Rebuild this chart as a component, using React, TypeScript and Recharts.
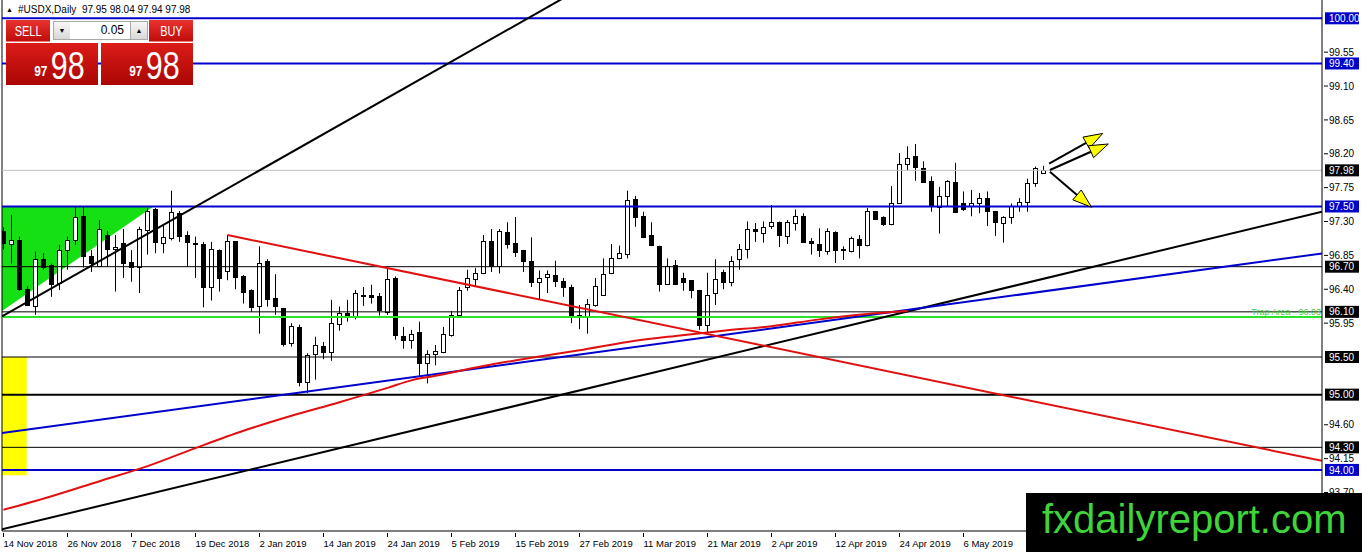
import React from "react";
import {
  ComposedChart,
  Bar,
  Line,
  Area,
  XAxis,
  YAxis,
  ReferenceLine,
  ReferenceArea,
} from "recharts";

// ── #USDX daily candles, one per trading day from 14 Nov 2018 ──
const OPEN = [
  97.17, 97.0, 97.06, 96.4, 96.18, 96.8, 96.72, 96.48, 96.92, 97.05,
  97.37, 96.84, 96.71, 97.12, 96.93, 97.02, 96.76, 96.7, 97.19, 97.46,
  97.02, 97.08, 97.41, 97.12, 97.02, 97.0, 96.43, 96.92, 96.64, 97.04,
  96.58, 96.39, 96.18, 96.77, 96.28, 96.15, 95.68, 95.9, 95.17, 95.54,
  95.64, 95.57, 95.94, 96.09, 96.05, 96.33, 96.33, 96.31, 96.1, 96.55,
  95.78, 95.73, 95.83, 95.42, 95.54, 95.57, 95.79, 96.06, 96.43, 96.54,
  96.62, 97.04, 96.71, 97.16, 97.01, 96.92, 96.78, 96.49, 96.56, 96.59,
  96.51, 96.43, 96.05, 96.05, 96.19, 96.32, 96.61, 96.82, 96.87, 97.6,
  97.37, 97.12, 96.98, 96.47, 96.72, 96.55, 96.52, 96.39, 95.93, 96.35,
  96.63, 96.5, 96.8, 96.94, 97.2, 97.15, 97.24, 97.29, 97.11, 97.28,
  97.37, 97.04, 97.0, 96.91, 97.16, 96.92, 96.91, 97.07, 96.99, 97.44,
  97.36, 97.27, 97.55, 98.06, 98.17, 98.01, 97.84, 97.49, 97.64, 97.83,
  97.54, 97.51, 97.55, 97.61, 97.44, 97.28, 97.36, 97.51, 97.56, 97.81,
  97.95,
];
const HIGH = [
  97.22, 97.39, 97.1, 96.44, 96.9, 96.88, 96.74, 96.99, 97.1, 97.49,
  97.5, 96.92, 97.32, 97.17, 97.12, 97.2, 96.92, 97.23, 97.48, 97.48,
  97.25, 97.71, 97.44, 97.17, 97.1, 97.03, 97.03, 96.93, 97.12, 97.04,
  96.59, 96.4, 96.97, 96.8, 96.6, 96.15, 95.95, 95.93, 95.55, 95.77,
  95.7, 96.26, 96.17, 96.26, 96.39, 96.43, 96.46, 96.35, 96.68, 96.57,
  95.9, 95.86, 95.97, 95.59, 95.66, 95.9, 96.11, 96.43, 96.66, 96.68,
  97.12, 97.2, 97.2, 97.29, 97.36, 96.92, 97.09, 96.65, 96.65, 96.78,
  96.55, 96.46, 96.19, 96.27, 96.55, 96.81, 97.0, 96.98, 97.71, 97.64,
  97.43, 97.29, 96.98, 96.81, 96.79, 96.62, 96.52, 96.39, 96.62, 96.8,
  96.66, 96.84, 97.0, 97.3, 97.28, 97.3, 97.52, 97.3, 97.32, 97.46,
  97.41, 97.08, 97.21, 97.21, 97.17, 96.97, 97.1, 97.12, 97.48, 97.44,
  97.37, 97.77, 98.21, 98.3, 98.33, 98.1, 97.9, 97.76, 97.85, 98.08,
  97.7, 97.72, 97.68, 97.7, 97.44, 97.37, 97.54, 97.61, 97.87, 98.03,
  98.04,
];
const LOW = [
  96.93, 96.74, 96.38, 96.18, 96.06, 96.66, 96.3, 96.39, 96.66, 96.99,
  96.69, 96.63, 96.7, 96.7, 96.37, 96.55, 96.5, 96.35, 96.86, 96.88,
  96.88, 97.05, 97.03, 96.7, 96.55, 96.16, 96.25, 96.37, 96.52, 96.4,
  96.21, 96.1, 95.81, 96.17, 96.06, 95.64, 95.64, 95.11, 95.02, 95.2,
  95.47, 95.45, 95.85, 95.97, 96.0, 96.18, 96.21, 96.05, 96.06, 95.73,
  95.61, 95.61, 95.24, 95.15, 95.39, 95.55, 95.77, 96.04, 96.38, 96.44,
  96.6, 96.63, 96.61, 96.94, 96.83, 96.63, 96.43, 96.27, 96.35, 96.43,
  96.3, 95.95, 95.87, 95.81, 96.17, 96.31, 96.6, 96.8, 96.81, 97.23,
  97.1, 96.98, 96.37, 96.46, 96.46, 96.38, 96.28, 95.86, 95.81, 96.19,
  96.4, 96.44, 96.66, 96.81, 97.03, 97.02, 97.2, 96.96, 97.0, 97.18,
  97.02, 96.86, 96.83, 96.86, 96.75, 96.79, 96.89, 96.81, 96.97, 97.32,
  97.24, 97.25, 97.54, 97.98, 97.84, 97.82, 97.43, 97.14, 97.5, 97.43,
  97.44, 97.37, 97.41, 97.24, 97.11, 97.02, 97.27, 97.43, 97.43, 97.76,
  97.94,
];
const CLOSE = [
  97.01, 97.05, 96.4, 96.19, 96.8, 96.69, 96.47, 96.92, 97.06, 97.36,
  96.84, 96.75, 97.2, 96.94, 96.96, 96.75, 96.69, 97.2, 97.44, 97.03,
  97.09, 97.43, 97.11, 97.03, 97.01, 96.43, 96.93, 96.55, 97.04, 96.56,
  96.36, 96.16, 96.75, 96.27, 96.18, 95.67, 95.91, 95.17, 95.53, 95.66,
  95.57, 95.95, 96.08, 96.06, 96.35, 96.31, 96.3, 96.12, 96.53, 95.79,
  95.73, 95.81, 95.42, 95.54, 95.58, 95.8, 96.06, 96.39, 96.55, 96.62,
  97.04, 96.71, 97.17, 97.0, 96.9, 96.78, 96.5, 96.55, 96.6, 96.51,
  96.43, 96.05, 96.06, 96.2, 96.44, 96.6, 96.81, 96.88, 97.58, 97.36,
  97.1, 96.99, 96.47, 96.71, 96.47, 96.5, 96.39, 95.93, 96.33, 96.53,
  96.5, 96.78, 96.93, 97.2, 97.18, 97.23, 97.29, 97.12, 97.29, 97.38,
  97.03, 97.01, 96.92, 97.17, 96.92, 96.94, 97.08, 96.99, 97.44, 97.33,
  97.27, 97.54, 98.07, 98.15, 98.02, 97.82, 97.5, 97.64, 97.84, 97.43,
  97.46, 97.54, 97.61, 97.44, 97.3, 97.36, 97.51, 97.56, 97.81, 98.01,
  97.98,
];

// one date label every 8 bars
const DATE_LABELS = [
  "14 Nov 2018", "26 Nov 2018", "7 Dec 2018", "19 Dec 2018", "2 Jan 2019",
  "14 Jan 2019", "24 Jan 2019", "5 Feb 2019", "15 Feb 2019", "27 Feb 2019",
  "11 Mar 2019", "21 Mar 2019", "2 Apr 2019", "12 Apr 2019", "24 Apr 2019",
  "6 May 2019",
];
const DATE_STEP = 8;

// price scale
const PRICE_TICKS = [99.55, 99.1, 98.65, 98.2, 97.75, 97.3, 96.85, 96.4, 95.95, 94.6, 94.15, 93.7];
const BLUE_LEVELS = [100.0, 99.4, 97.5, 94.0];
const BLACK_LEVELS = [96.7, 96.1, 95.5, 95.0, 94.3];
const TRAP_LEVEL = 96.03;
const LAST_PRICE = 97.98;

// visible window: bars -0.19 … 164.8, prices 93.19 … 100.24
const X_DOMAIN = [-0.1875, 164.8125];
const Y_DOMAIN = [93.1885, 100.2431];

// drawn trendlines, [bar, price] → [bar, price]
const TREND_STEEP = [[-0.19, 96.04], [75, 100.57]];
const TREND_LONG = [[-0.19, 93.21], [164.81, 97.43]];
const TREND_BLUE = [[-0.19, 94.49], [164.81, 96.875]];
const TREND_RED = [[28, 97.12], [164.81, 94.12]];

// curved red line (read at a few bars)
const RED_CURVE_BAR = [0, 6, 12, 18, 24, 30, 36, 42, 48, 51, 54, 60, 66, 72, 78, 84, 90, 96, 102, 108, 113];
const RED_CURVE_VAL = [
  93.47, 93.65, 93.85, 94.05, 94.29, 94.52, 94.72, 94.9, 95.09, 95.19, 95.25,
  95.38, 95.49, 95.59, 95.7, 95.78, 95.85, 95.91, 96.0, 96.07, 96.11,
];

// green wedge and yellow box
const GREEN_BAR = [-0.19, 18.73];
const GREEN_LO = [96.11, 97.5];
const GREEN_HI = [97.5, 97.5];
const YELLOW_BARS = [-0.19, 2.9];
const YELLOW_PRICES = [93.93, 95.5];

// scenario arrows
const ARROWS = [
  [[130.7, 98.07], [137.4, 98.47]],
  [[130.8, 97.985], [138.1, 98.33]],
  [[130.8, 97.96], [136.0, 97.49]],
];

const FONT = "'Liberation Sans', Arial, sans-serif";
const BLUE = "#0000cc";
const RED = "#e01010";

const candles = OPEN.map((o, i) => ({
  i,
  o,
  h: HIGH[i],
  l: LOW[i],
  c: CLOSE[i],
  range: [LOW[i], HIGH[i]],
}));
const greenData = GREEN_BAR.map((i, k) => ({ i, band: [GREEN_LO[k], GREEN_HI[k]] }));
const redCurve = RED_CURVE_BAR.map((i, k) => ({ i, p: RED_CURVE_VAL[k] }));
const seg = (s: number[][]) => s.map(([x, y]) => ({ x, y }));
const near = (a: number, list: number[]) => list.some((v) => Math.abs(v - a) < 1e-6);

function Candle(props: any) {
  const { x, y, width, height, payload } = props;
  const { o, c, h, l } = payload;
  const cx = Math.floor(x + width / 2) + 0.5;
  const span = h - l || 1;
  const py = (p: number) => y + ((h - p) / span) * height;
  const top = Math.round(py(Math.max(o, c))) + 0.5;
  const bot = Math.round(py(Math.min(o, c))) + 0.5;
  const up = c > o;
  return (
    <g>
      <line x1={cx} x2={cx} y1={y} y2={y + height} stroke="#000" strokeWidth={1} />
      <rect
        x={cx - 2}
        y={top}
        width={4}
        height={Math.max(bot - top, 1)}
        fill={up ? "#fff" : "#000"}
        stroke="#000"
        strokeWidth={1}
      />
    </g>
  );
}

function PriceTick({ x, y, payload }: any) {
  const v = payload.value;
  const tag = near(v, BLUE_LEVELS) ? BLUE : near(v, [LAST_PRICE, ...BLACK_LEVELS]) ? "#000" : null;
  if (tag) {
    return (
      <g>
        <rect x={x + 1} y={y - 6} width={34} height={12} fill={tag} />
        <text x={x + 5} y={y} dy="0.36em" fontSize={10} fill="#fff" fontFamily={FONT}>
          {v.toFixed(2)}
        </text>
      </g>
    );
  }
  return (
    <g>
      <line x1={x} x2={x + 4} y1={y} y2={y} stroke="#000" />
      <text x={x + 5} y={y} dy="0.36em" fontSize={10} fill="#000" fontFamily={FONT}>
        {v.toFixed(2)}
      </text>
    </g>
  );
}

function DateTick({ x, y, payload }: any) {
  const label = DATE_LABELS[Math.round(payload.value / DATE_STEP)];
  return (
    <g>
      <line x1={x} x2={x} y1={y} y2={y + 4} stroke="#000" />
      <text x={x} y={y + 14} fontSize={9.5} fill="#000" fontFamily={FONT} textAnchor="start">
        {label}
      </text>
    </g>
  );
}

function TrapLabel({ viewBox }: any) {
  const { x, y, width } = viewBox;
  return (
    <text x={x + width - 1} y={y - 2} textAnchor="end" fontSize={9} fill="#3ccf3c" fontFamily={FONT}>
      {`Trap Area - ${TRAP_LEVEL.toFixed(2)}`}
    </text>
  );
}

function ArrowShape(props: any) {
  const { x1, y1, x2, y2 } = props;
  const ang = Math.atan2(y2 - y1, x2 - x1);
  const len = 19;
  const half = 6.5;
  const bx = x2 - len * Math.cos(ang);
  const by = y2 - len * Math.sin(ang);
  const nx = -Math.sin(ang) * half;
  const ny = Math.cos(ang) * half;
  return (
    <g>
      <line x1={x1} y1={y1} x2={bx} y2={by} stroke="#000" strokeWidth={2} />
      <polygon
        points={`${x2},${y2} ${bx + nx},${by + ny} ${bx - nx},${by - ny}`}
        fill="#ffff00"
        stroke="#000"
        strokeWidth={1}
      />
    </g>
  );
}

// MT4 one-click trading panel
const redGrad = "linear-gradient(#ea3330, #bd0d0a)";
const bigGrad = "linear-gradient(#dc1c18, #a90603)";
const greyGrad = "linear-gradient(#f7f7f7, #d8d8d8)";

function Squeezed({ children, size, scale = 0.78, bold = false }: any) {
  return (
    <span
      style={{
        display: "inline-block",
        fontSize: size,
        transform: `scaleX(${scale})`,
        fontWeight: bold ? 700 : 400,
        lineHeight: 1,
      }}
    >
      {children}
    </span>
  );
}

function TradePanel() {
  const last = CLOSE.length - 1;
  const [big, small] = (() => {
    const s = CLOSE[last].toFixed(2).split(".");
    return [s[1], s[0]];
  })();
  const header = `#USDX,Daily  ${OPEN[last].toFixed(2)} ${HIGH[last].toFixed(2)} ${LOW[last].toFixed(2)} ${CLOSE[last].toFixed(2)}`;
  const box = (left: number) => (
    <div
      style={{
        position: "absolute",
        left,
        top: 43,
        width: 92,
        height: 42,
        background: bigGrad,
        color: "#fff",
      }}
    >
      <div style={{ position: "absolute", left: 27, top: 19 }}>
        <Squeezed size={14} scale={0.85} bold>
          {small}
        </Squeezed>
      </div>
      <div style={{ position: "absolute", left: 40, top: 3 }}>
        <Squeezed size={39} scale={0.78}>
          {big}
        </Squeezed>
      </div>
    </div>
  );
  const btn = (left: number, label: string) => (
    <div
      style={{
        position: "absolute",
        left,
        top: 20,
        width: 44,
        height: 22,
        background: redGrad,
        color: "#fff",
        textAlign: "center",
        lineHeight: "21px",
        borderBottom: "1px solid #f08080",
        boxSizing: "border-box",
      }}
    >
      <Squeezed size={14}>{label}</Squeezed>
    </div>
  );
  const arrowBox = (left: number, glyph: string) => (
    <div
      style={{
        position: "absolute",
        left,
        top: 21,
        width: 18,
        height: 19,
        background: greyGrad,
        border: "1px solid #a8a8a8",
        boxSizing: "border-box",
        fontSize: 7,
        textAlign: "center",
        lineHeight: "17px",
      }}
    >
      {glyph}
    </div>
  );
  return (
    <div style={{ position: "absolute", left: 0, top: 0, fontFamily: FONT }}>
      <div style={{ position: "absolute", left: 6, top: 6, fontSize: 7, lineHeight: 1 }}>▲</div>
      <div style={{ position: "absolute", left: 18, top: 5, fontSize: 10, whiteSpace: "pre", lineHeight: 1 }}>
        {header}
      </div>
      {btn(6, "SELL")}
      {arrowBox(53, "▼")}
      <div
        style={{
          position: "absolute",
          left: 70,
          top: 21,
          width: 60,
          height: 19,
          background: "#fff",
          borderTop: "1px solid #a8a8a8",
          borderBottom: "1px solid #a8a8a8",
          boxSizing: "border-box",
          fontSize: 12,
          textAlign: "right",
          paddingRight: 6,
          lineHeight: "17px",
        }}
      >
        0.05
      </div>
      {arrowBox(130, "▲")}
      {btn(149, "BUY")}
      {box(6)}
      {box(101)}
    </div>
  );
}

export default function App() {
  return (
    <div style={{ position: "absolute", left: 0, top: 0, width: 1362, height: 552, background: "#fff", fontFamily: FONT }}>
      <ComposedChart width={1362} height={552} data={candles} margin={{ top: 0, right: 0, bottom: 0, left: 2 }}>
        <XAxis
          type="number"
          dataKey="i"
          domain={X_DOMAIN}
          allowDataOverflow
          ticks={DATE_LABELS.map((_, k) => k * DATE_STEP)}
          interval={0}
          tick={<DateTick />}
          tickLine={false}
          tickSize={0}
          axisLine={{ stroke: "#000" }}
          height={21}
        />
        <YAxis
          type="number"
          orientation="right"
          domain={Y_DOMAIN}
          allowDataOverflow
          ticks={[...PRICE_TICKS, ...BLACK_LEVELS, ...BLUE_LEVELS, LAST_PRICE]}
          interval={0}
          tick={<PriceTick />}
          tickLine={false}
          tickSize={0}
          axisLine={{ stroke: "#000" }}
          width={40}
        />

        {/* zones */}
        <Area
          data={greenData}
          dataKey="band"
          type="linear"
          stroke="none"
          fill="#14e014"
          fillOpacity={1}
          isAnimationActive={false}
          dot={false}
          activeDot={false}
        />
        <ReferenceArea
          x1={YELLOW_BARS[0]}
          x2={YELLOW_BARS[1]}
          y1={YELLOW_PRICES[0]}
          y2={YELLOW_PRICES[1]}
          fill="#ffff00"
          fillOpacity={1}
          stroke="none"
          ifOverflow="visible"
        />

        {/* frame + horizontal levels */}
        <ReferenceLine x={X_DOMAIN[0]} stroke="#000" ifOverflow="visible" />
        <ReferenceLine y={LAST_PRICE} stroke="#c0c0c0" />
        {BLACK_LEVELS.map((v) => (
          <ReferenceLine key={`k${v}`} y={v} stroke="#000" strokeWidth={v === 95 ? 2 : 1} />
        ))}
        <ReferenceLine y={TRAP_LEVEL} stroke="#2ee02e" strokeWidth={2} label={<TrapLabel />} />
        {BLUE_LEVELS.map((v) => (
          <ReferenceLine key={`b${v}`} y={v} stroke={BLUE} strokeWidth={2} />
        ))}

        {/* trendlines */}
        <ReferenceLine segment={seg(TREND_STEEP)} stroke="#000" strokeWidth={2} ifOverflow="hidden" />
        <ReferenceLine segment={seg(TREND_LONG)} stroke="#000" strokeWidth={2} ifOverflow="hidden" />
        <ReferenceLine segment={seg(TREND_BLUE)} stroke={BLUE} strokeWidth={2} ifOverflow="hidden" />
        <ReferenceLine segment={seg(TREND_RED)} stroke={RED} strokeWidth={2} ifOverflow="hidden" />
        <Line
          data={redCurve}
          dataKey="p"
          type="monotone"
          stroke={RED}
          strokeWidth={2}
          dot={false}
          activeDot={false}
          isAnimationActive={false}
        />

        {/* candles */}
        <Bar dataKey="range" barSize={5} shape={Candle} isAnimationActive={false} />

        {ARROWS.map((a, k) => (
          <ReferenceLine key={`a${k}`} segment={seg(a)} shape={ArrowShape} ifOverflow="visible" />
        ))}
      </ComposedChart>

      <TradePanel />

      <svg width={1362} height={552} style={{ position: "absolute", left: 0, top: 0, pointerEvents: "none" }}>
        <rect x={1026} y={493} width={336} height={59} fill="#000" />
        <text x={1042} y={533} fontSize={40} fill="#3fd43a" fontFamily={FONT}>
          fxdailyreport.com
        </text>
      </svg>
    </div>
  );
}
